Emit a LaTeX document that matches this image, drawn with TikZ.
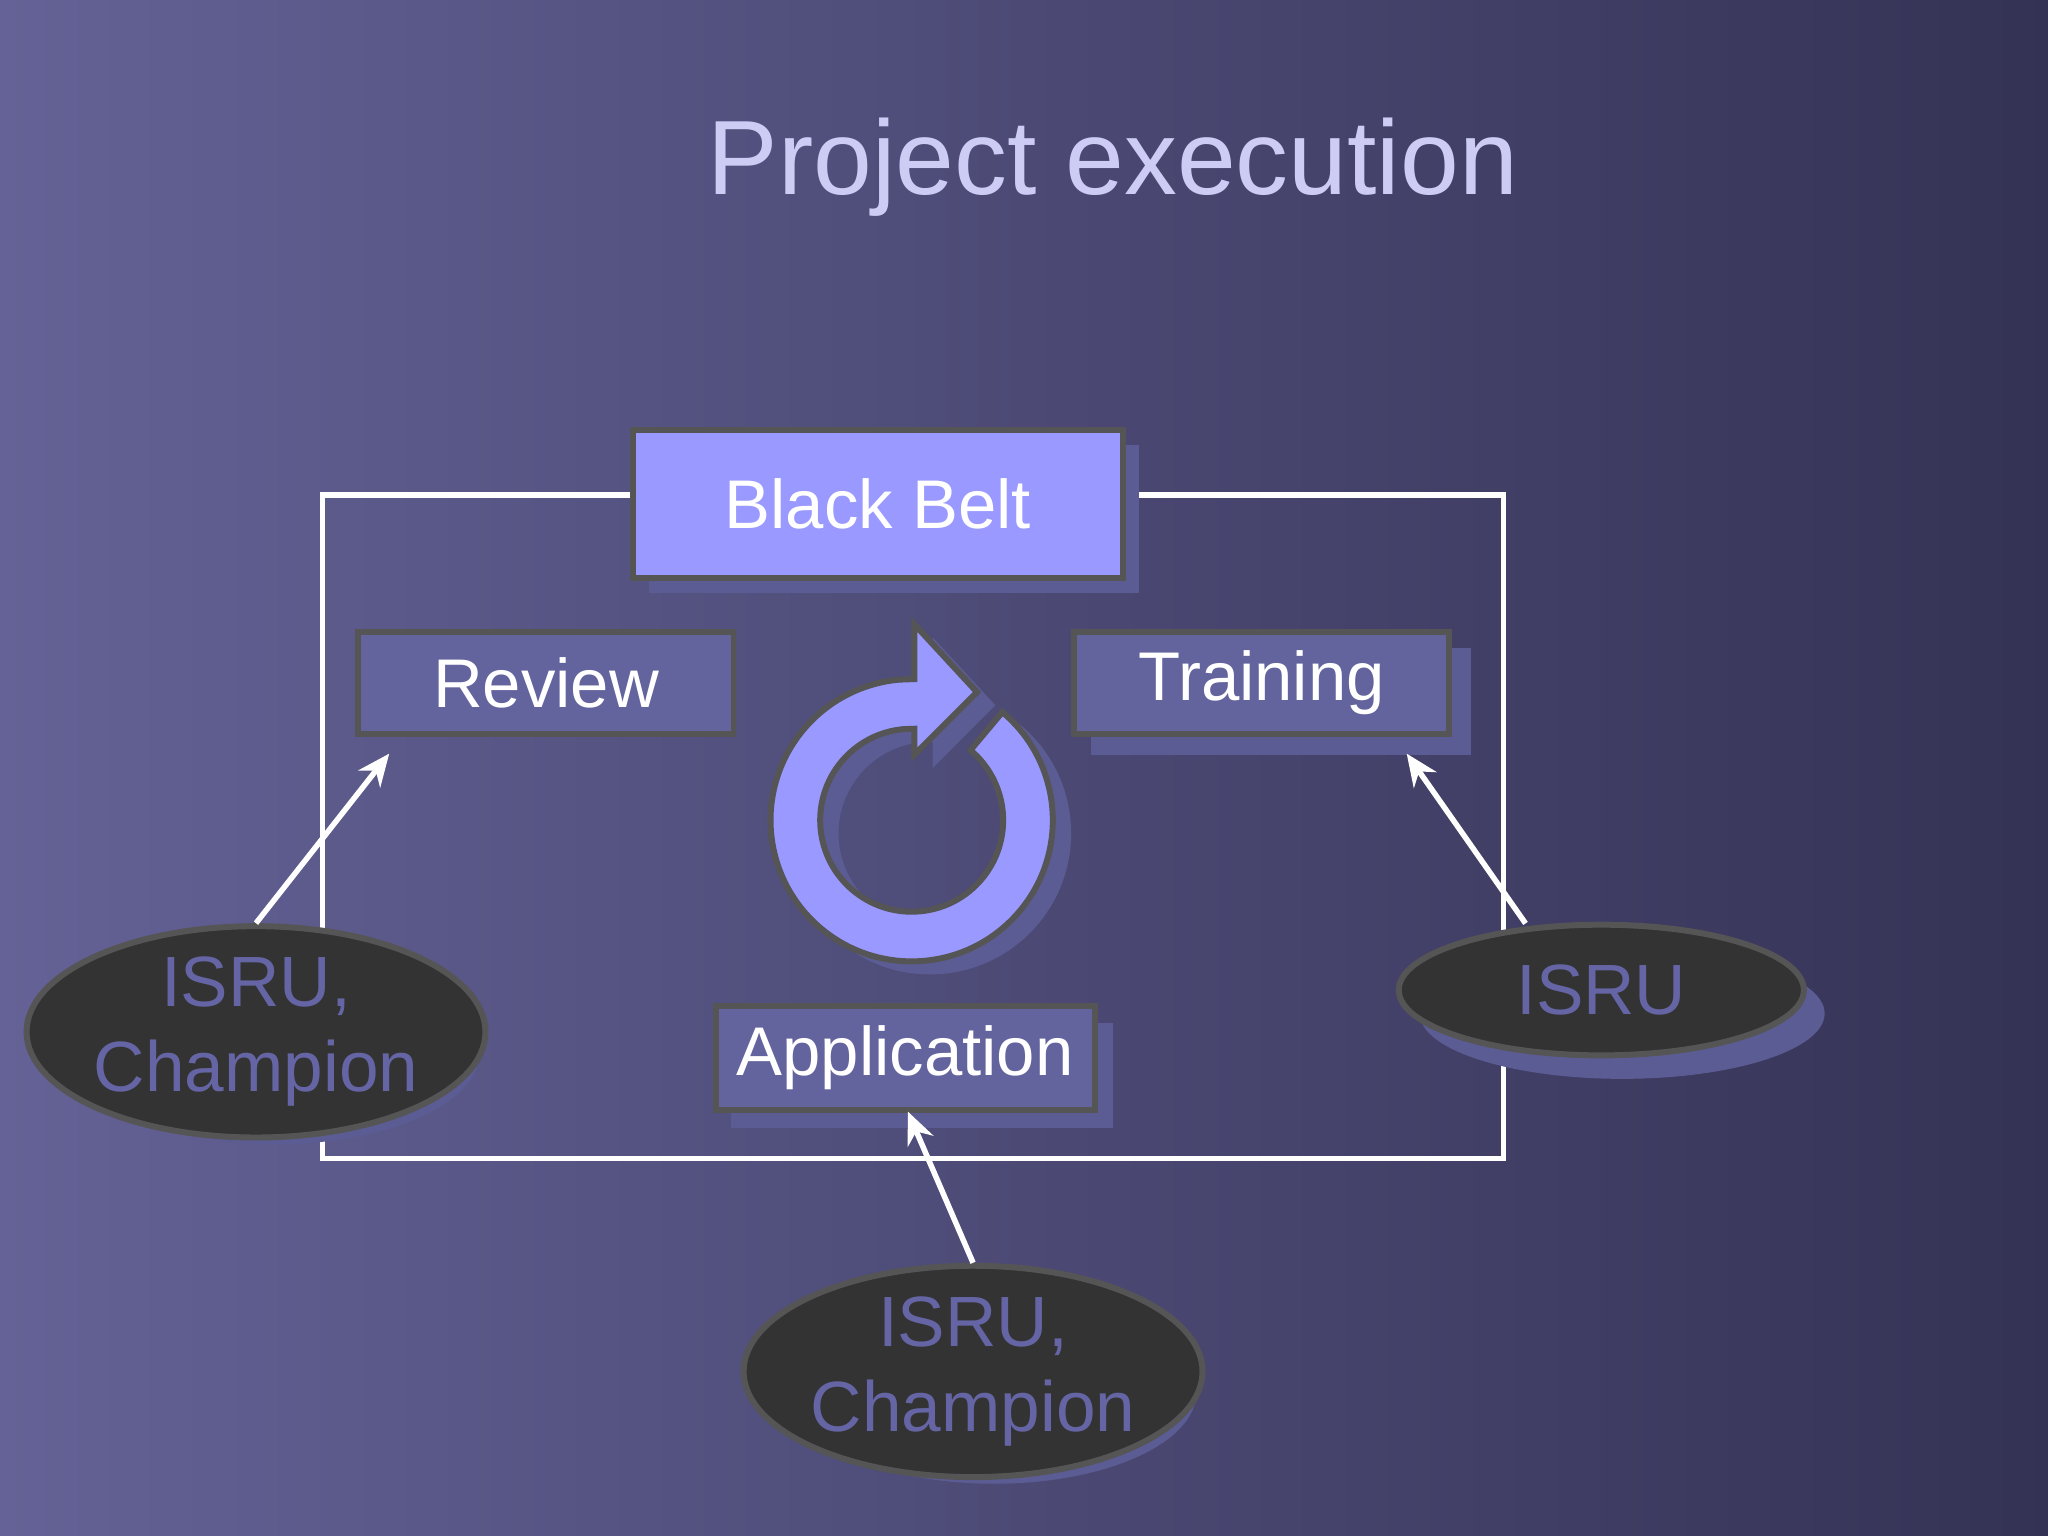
\documentclass[tikz,border=0pt]{standalone}
\usepackage{fontspec}
\setmainfont{Liberation Sans}
\usetikzlibrary{shapes.geometric,arrows.meta}
\definecolor{bbfill}{HTML}{9999FF}
\definecolor{boxfill}{HTML}{63639E}
\definecolor{edge}{HTML}{555555}
\definecolor{ellfill}{HTML}{333333}
\definecolor{elltext}{HTML}{6565A5}
\definecolor{shadowc}{HTML}{5C5C94}
\definecolor{titlec}{HTML}{CCCCF5}
\definecolor{bgA}{RGB}{100,98,150}
\definecolor{bgB}{RGB}{52,50,84}
\begin{document}
\begin{tikzpicture}[x=0.01cm,y=-0.01cm,
  box/.style={draw=edge,line width=1.3pt,fill=boxfill,text=white,font=\fontsize{15}{18}\selectfont,inner sep=0pt},
  ell/.style={ellipse,draw=edge,line width=1.3pt,fill=ellfill,text=elltext,font=\fontsize{15.5}{18.5}\selectfont,align=center,inner sep=0pt},
  arr/.style={white,line width=1.2pt,-{Stealth[length=7pt,width=6pt]}}]
\shade[shading=axis,shading angle=-40,left color=bgA,right color=bgB] (0,0) rectangle (1568,1176);
\useasboundingbox (0,0) rectangle (1568,1176);
\node[text=titlec,font=\fontsize{23}{28}\selectfont] (title) at (852,128) {Project execution};
% frame
\draw[white,line width=1.2pt] (247,379) rectangle (1151,887);
% black belt
\fill[shadowc] (497,341) rectangle (872,454);
\node[box,fill=bbfill,minimum width=3.75cm,minimum height=1.13cm] (bb) at (672,386) {Black Belt};
\node[box,minimum width=2.87cm,minimum height=0.78cm] (rev) at (418,523) {Review};
\fill[shadowc] (835,496) rectangle (1126,578);
\node[box,minimum width=2.87cm,minimum height=0.78cm] (tr) at (966,523) {Training};
\fill[shadowc] (560,783) rectangle (852,864);
\node[box,minimum width=2.9cm,minimum height=0.79cm] (app) at (693,810) {Application};
% circular arrow
\begin{scope}[shift={(698,628)},x=1cm,y=1cm]
\fill[shadowc,shift={(0.14,-0.1)}] (50:1.08) arc[start angle=50,end angle=-265,radius=1.08] -- (0.02,1.08) -- (0.02,1.50) -- (0.50,0.98) -- (0.02,0.50) -- (0.02,0.70) -- (95:0.70) arc[start angle=95,end angle=410,radius=0.70] -- cycle;
\filldraw[fill=bbfill,draw=edge,line width=1.3pt] (50:1.08) arc[start angle=50,end angle=-265,radius=1.08] -- (0.02,1.08) -- (0.02,1.50) -- (0.50,0.98) -- (0.02,0.50) -- (0.02,0.70) -- (95:0.70) arc[start angle=95,end angle=410,radius=0.70] -- cycle;
\end{scope}
% ellipses
\fill[shadowc] (212,806) ellipse [x radius=155,y radius=70];
\node[ell,minimum width=3.1cm,minimum height=1.4cm] (e1) at (196,790) {ISRU,\\Champion};
\fill[shadowc] (1242,776) ellipse [x radius=155,y radius=50];
\node[ell,minimum width=3.1cm,minimum height=1.0cm] (e2) at (1226,758) {ISRU};
\fill[shadowc] (761,1066) ellipse [x radius=155,y radius=70];
\node[ell,minimum width=3.1cm,minimum height=1.4cm] (e3) at (745,1050) {ISRU,\\Champion};
\coordinate (a1) at (298,577);
\coordinate (a2) at (1077,577);
\coordinate (a3) at (695,851);
\coordinate (s2) at (1168,707);
\draw[arr] (e1.north) -- (a1);
\draw[arr] (s2) -- (a2);
\draw[arr] (e3.north) -- (a3);
\end{tikzpicture}
\end{document}
